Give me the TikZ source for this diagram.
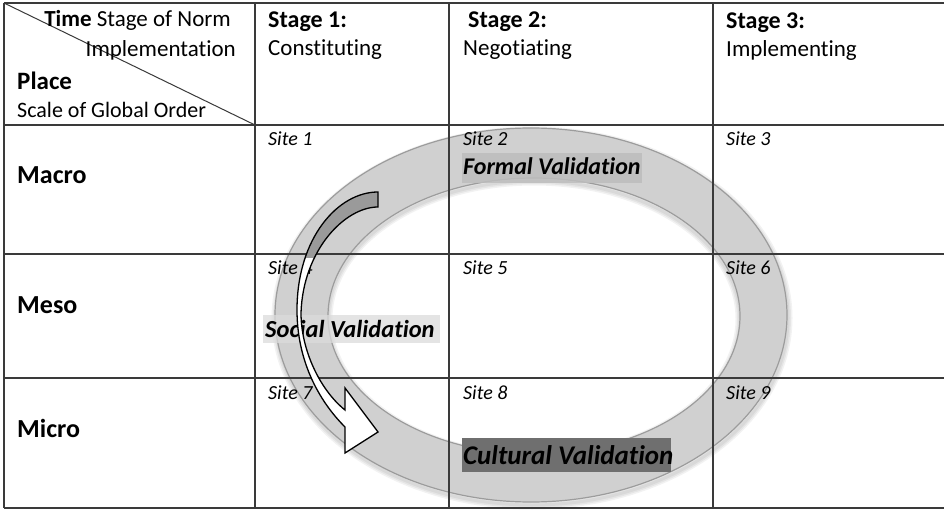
\documentclass[tikz,border=0pt]{standalone}
\usepackage{fontspec}
\setmainfont{Carlito}[Ligatures=NoCommon]
\definecolor{gridc}{HTML}{3A3A3A}
\definecolor{ringfill}{HTML}{D0D0D0}
\definecolor{ringedge}{HTML}{9C9C9C}
\definecolor{arrowgray}{HTML}{9A9A9A}
\definecolor{formalbg}{HTML}{BDBDBD}
\definecolor{culturalbg}{HTML}{6F6F6F}
\tikzset{
  gridline/.style={draw=gridc, line width=1.2pt},
  txt/.style={anchor=base west, inner sep=0pt},
  hdr/.style={txt, font=\fontsize{23}{27}\selectfont},
  stagelab/.style={txt, font=\bfseries\fontsize{24}{28}\selectfont},
  rowlab/.style={txt, font=\bfseries\fontsize{26}{30}\selectfont},
  sitelab/.style={txt, font=\itshape\fontsize{20}{24}\selectfont},
  vallab/.style={txt, font=\bfseries\itshape\fontsize{24}{28}\selectfont},
  valbox/.style={anchor=north west, inner sep=0pt, draw=none},
  glow/.style={draw=black, draw opacity=0.05},
}
\begin{document}
\begin{tikzpicture}[x=1pt,y=-1pt]
\useasboundingbox (0,0) rectangle (944,510);
\fill[white] (0,0) rectangle (944,510);

% ring with soft shadow
\foreach \w in {9,6,3} {
  \draw[glow, line width=\w pt] (532,318) ellipse [x radius=256pt, y radius=187pt];
  \draw[glow, line width=\w pt] (534,319) ellipse [x radius=206pt, y radius=138pt];
}
\path[fill=ringfill, even odd rule]
  (531,315) ellipse [x radius=256pt, y radius=187pt]
  (534,316) ellipse [x radius=206pt, y radius=138pt];
\draw[ringedge, line width=1.2pt] (531,315) ellipse [x radius=256pt, y radius=187pt];
\draw[ringedge, line width=1.2pt] (534,316) ellipse [x radius=206pt, y radius=138pt];

% grid
\foreach \yy in {3,125,254,378,508} \draw[gridline] (4,\yy) -- (944,\yy);
\foreach \xx in {4,255,449,713} \draw[gridline] (\xx,3) -- (\xx,508);
\draw[gridline, line width=1pt] (4,3) -- (255,125);

% header cell
\node[hdr, anchor=base east] (time) at (231,27) {\textbf{Time} Stage of Norm};
\node[hdr, anchor=base east] (impl) at (236,57) {Implementation};
\node[txt, font=\bfseries\fontsize{25}{30}\selectfont] (place) at (17,90) {Place};
\node[hdr, font=\fontsize{22}{26}\selectfont] (scale) at (17,118) {Scale of Global Order};

% stages
\node[stagelab] (s1) at (268,28) {Stage 1:};
\node[hdr] (s1b) at (268,56) {Constituting};
\node[stagelab] (s2) at (468,28) {Stage 2:};
\node[hdr] (s2b) at (463,56) {Negotiating};
\node[stagelab] (s3) at (726,29) {Stage 3:};
\node[hdr] (s3b) at (726,57) {Implementing};

% rows
\node[rowlab] (macro) at (17,184) {Macro};
\node[rowlab] (meso) at (17,313) {Meso};
\node[rowlab] (micro) at (17,437) {Micro};

% sites
\node[sitelab] (site1) at (268,146) {Site 1};
\node[sitelab] (site2) at (463,146) {Site 2};
\node[sitelab] (site3) at (726,146) {Site 3};
\node[sitelab] (site4) at (268,275) {Site 4};
\node[sitelab] (site5) at (463,275) {Site 5};
\node[sitelab] (site6) at (726,275) {Site 6};
\node[sitelab] (site7) at (268,399) {Site 7};
\node[sitelab] (site8) at (463,399) {Site 8};
\node[sitelab] (site9) at (726,399) {Site 9};

% validation labels
\node[valbox, fill=formalbg, fill opacity=0.85, minimum width=180pt, minimum height=30pt] (formalbox) at (462,153) {};
\node[vallab] (formal) at (463,175) {Formal Validation};
\node[valbox, fill=black!14, fill opacity=0.75, minimum width=177pt, minimum height=28pt] (socialbox) at (263,315) {};
\node[vallab, font=\bfseries\itshape\fontsize{24.5}{28}\selectfont] (social) at (265,337) {Social Validation};
\node[valbox, fill=culturalbg, minimum width=209pt, minimum height=34pt] (culturalbox) at (462,438) {};
\node[vallab, font=\bfseries\itshape\fontsize{27}{30}\selectfont] (cultural) at (463,464) {Cultural Validation};

% curved arrow
\def\arrowpath{(378,192) .. controls (338,192) and (297,238) .. (297,310)
  .. controls (297,360) and (318,400) .. (345,427) -- (345,453) -- (378,432)
  -- (345,388) -- (345,410) .. controls (320,390) and (301,350) .. (301,313)
  .. controls (303,250) and (345,207) .. (378,207) -- cycle}
\fill[white] \arrowpath;
\begin{scope}
  \clip (0,0) rectangle (944,258);
  \fill[arrowgray] \arrowpath;
\end{scope}
\draw[black, line width=1.3pt, line join=miter] \arrowpath;
\end{tikzpicture}
\end{document}
